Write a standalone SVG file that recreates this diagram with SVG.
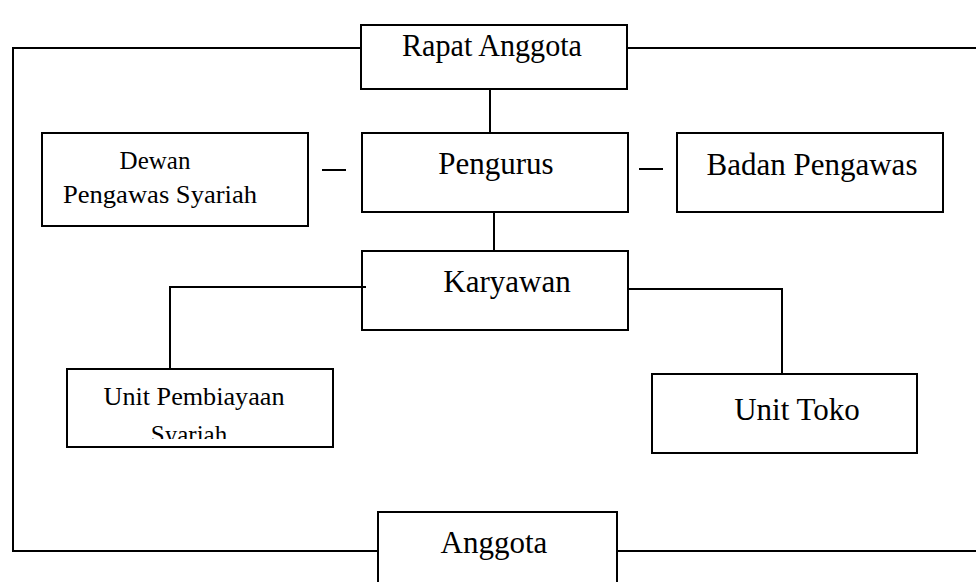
<svg xmlns="http://www.w3.org/2000/svg" width="976" height="582" viewBox="0 0 976 582">
<style>
.box{fill:#fff;stroke:#000;stroke-width:2}
.ln{fill:none;stroke:#000;stroke-width:2}
.t{font-family:"Liberation Serif","Times New Roman",serif;fill:#000;text-anchor:middle}
.big{font-size:31px}
.sm{font-size:25px}
</style>
<defs>
<clipPath id="clipUPS"><rect x="67" y="369" width="266" height="70"/></clipPath>
</defs>
<rect width="976" height="582" fill="#fff"/>
<g id="connectors">
<path class="ln" d="M361 48 H13 V551 H378"/>
<path class="ln" d="M627 48 H976"/>
<path class="ln" d="M617 551 H976"/>
<path class="ln" d="M490 89 V133"/>
<path class="ln" d="M494 207 V251"/>
<path class="ln" d="M322 170 H346"/>
<path class="ln" d="M639 169 H663"/>
<path class="ln" d="M628 289 H782 V374"/>
</g>
<g id="rapat-anggota"><rect class="box" x="361" y="25" width="266" height="64"/><text class="t big" x="492" y="56" textLength="180" lengthAdjust="spacingAndGlyphs">Rapat Anggota</text></g>
<g id="dewan"><rect class="box" x="42" y="133" width="266" height="93"/><text class="t sm" x="155" y="169">Dewan</text><text class="t sm" x="160" y="203" textLength="194" lengthAdjust="spacingAndGlyphs">Pengawas Syariah</text></g>
<g id="pengurus"><rect class="box" x="362" y="133" width="266" height="79"/><text class="t big" x="496" y="174">Pengurus</text></g>
<g id="badan-pengawas"><rect class="box" x="677" y="133" width="266" height="79"/><text class="t big" x="812" y="175">Badan Pengawas</text></g>
<g id="karyawan"><rect class="box" x="362" y="251" width="266" height="79"/><text class="t big" x="507" y="292">Karyawan</text></g>
<path class="ln" d="M366 287 H170 V369"/>
<g id="unit-pembiayaan"><rect class="box" x="67" y="369" width="266" height="78"/><text class="t sm" x="194" y="405" textLength="181" lengthAdjust="spacingAndGlyphs">Unit Pembiayaan</text><text class="t sm" x="189" y="443" clip-path="url(#clipUPS)">Syariah</text></g>
<g id="unit-toko"><rect class="box" x="652" y="374" width="265" height="79"/><text class="t big" x="797" y="420">Unit Toko</text></g>
<g id="anggota"><rect class="box" x="378" y="512" width="239" height="80"/><text class="t big" x="494" y="553">Anggota</text></g>
</svg>
